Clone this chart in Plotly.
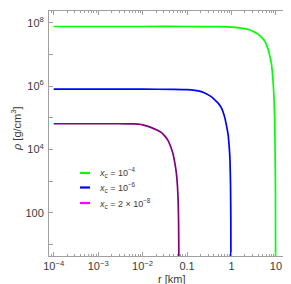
import plotly.graph_objects as go

# ---- data ----
r_green = [1e-4, 1e-3, 1e-2, 0.1, 0.5, 1.0, 1.5, 2.0, 2.4, 3.0, 4.0, 5.0, 5.6, 6.2, 6.7,
           7.3, 7.95, 8.4, 8.7, 9.0, 9.2, 9.4, 9.5, 9.65, 9.75, 9.8]
rho_green = [7.6e7, 7.6e7, 7.6e7, 7.6e7, 7.5e7, 7.3e7, 6.9e7, 6.5e7, 6.1e7, 5.4e7, 4.3e7,
             3.2e7, 2.6e7, 1.9e7, 1.4e7, 8.5e6, 4.8e6, 2.2e6, 1.1e6, 4.5e5, 2e5, 6e4,
             1.9e4, 2.5e3, 3e2, 3]

r_blue = [1e-4, 1e-3, 1e-2, 0.05, 0.1, 0.15, 0.2, 0.25, 0.3, 0.36, 0.42, 0.5, 0.6, 0.66,
          0.71, 0.78, 0.84, 0.88, 0.92, 0.95, 0.965, 0.97]
rho_blue = [8e5, 8e5, 8e5, 7.9e5, 7.7e5, 7.3e5, 6.8e5, 6.1e5, 5.3e5, 4.5e5, 3.7e5, 2.9e5,
            2e5, 1.4e5, 9.8e4, 5.2e4, 2.9e4, 1.4e4, 5.4e3, 7.8e2, 60, 3]

r_purple = [1e-4, 1e-3, 3e-3, 6e-3, 0.0079, 0.0105, 0.0158, 0.021, 0.0265, 0.032, 0.0375,
            0.043, 0.0486, 0.0535, 0.0577, 0.061, 0.063, 0.0645, 0.0655]
rho_purple = [6.5e4, 6.5e4, 6.5e4, 6.4e4, 6.3e4, 5.9e4, 4.9e4, 4.1e4, 3.4e4, 2.6e4, 1.9e4,
              1.2e4, 7.1e3, 3.5e3, 1.7e3, 6.5e2, 2.4e2, 50, 3]

legend_labels = ["<i>x</i><sub>c</sub> = 10<sup>−4</sup>",
                 "<i>x</i><sub>c</sub> = 10<sup>−6</sup>",
                 "<i>x</i><sub>c</sub> = 2 × 10<sup>−8</sup>"]
legend_colors = ["#00FF00", "#0000FF", "#FF00FF"]

x_tickvals = [1e-4, 1e-3, 1e-2, 0.1, 1, 10]
x_ticktext = ["10<sup>−4</sup>", "10<sup>−3</sup>", "10<sup>−2</sup>", "0.1", "1", "10"]
y_tickvals = [10, 100, 1e3, 1e4, 1e5, 1e6, 1e7, 1e8]
y_ticktext = ["", "100", "", "10<sup>4</sup>", "", "10<sup>6</sup>", "", "10<sup>8</sup>"]

FONT = "Liberation Sans"
TXT = "#3a3a3a"
FRAME = "#a0a0a0"

fig = go.Figure()
for rr, dd, col in [(r_green, rho_green, "#00FF00"),
                    (r_blue, rho_blue, "#0000FF"),
                    (r_purple, rho_purple, "#800080")]:
    fig.add_trace(go.Scatter(x=rr, y=dd, mode="lines",
                             line=dict(color=col, width=1.7, shape="spline", smoothing=0.5),
                             showlegend=False, hoverinfo="skip"))

W, H = 291, 284
L, R, T, B = 41, 4, 3, 36
pw = W - L - R
ph = H - T - B

def px2paper(px, py):
    return (px - L) / pw, (H - B - py) / ph

minor_x = [m * 10.0 ** e for e in range(-5, 2) for m in range(2, 10)]

fig.update_layout(
    width=W, height=H, autosize=False,
    margin=dict(l=L, r=R, t=T, b=B, pad=0),
    paper_bgcolor="white", plot_bgcolor="white",
    font=dict(family=FONT, size=11, color=TXT),
    showlegend=False,
    xaxis=dict(type="log", range=[-4.106, 1.428], showgrid=False, zeroline=False,
               showline=True, linecolor=FRAME, linewidth=1, mirror="ticks",
               ticks="inside", ticklen=4, tickcolor=FRAME, tickwidth=1,
               tickmode="array", tickvals=x_tickvals, ticktext=x_ticktext,
               tickfont=dict(family=FONT, size=11, color=TXT),
               automargin=False,
               minor=dict(tickmode="array", tickvals=minor_x, ticks="inside",
                          ticklen=2, tickcolor=FRAME, showgrid=False)),
    yaxis=dict(type="log", range=[0.642, 8.369], showgrid=False, zeroline=False,
               showline=True, linecolor=FRAME, linewidth=1, mirror="ticks",
               ticks="inside", ticklen=4, tickcolor=FRAME, tickwidth=1,
               tickmode="array", tickvals=y_tickvals, ticktext=y_ticktext,
               automargin=False,
               tickfont=dict(family=FONT, size=11, color=TXT), ticklabelstandoff=2),
)

# axis titles
tx, ty = px2paper(8, 121)
fig.add_annotation(text="<i>ρ</i> [g/cm<sup>3</sup>]", xref="paper", yref="paper",
                   x=tx, y=ty, textangle=-90, showarrow=False,
                   xanchor="center", yanchor="middle",
                   font=dict(family=FONT, size=11, color=TXT))
tx, ty = px2paper(164, 271)
fig.add_annotation(text="r [km]", xref="paper", yref="paper", x=tx, y=ty,
                   showarrow=False, xanchor="center", yanchor="middle",
                   font=dict(family=FONT, size=11, color=TXT))

# legend (drawn manually)
for i, (lab, col) in enumerate(zip(legend_labels, legend_colors)):
    py = [165, 179.5, 195][i]
    x0, y0 = px2paper(72, py)
    x1, _ = px2paper(82, py)
    fig.add_shape(type="line", xref="paper", yref="paper", x0=x0, x1=x1, y0=y0, y1=y0,
                  line=dict(color=col, width=2.2))
    xt, _ = px2paper(89, py)
    fig.add_annotation(text=lab, xref="paper", yref="paper", x=xt, y=y0,
                       showarrow=False, xanchor="left", yanchor="middle",
                       font=dict(family=FONT, size=9, color=TXT))

fig.write_html("out.html")
